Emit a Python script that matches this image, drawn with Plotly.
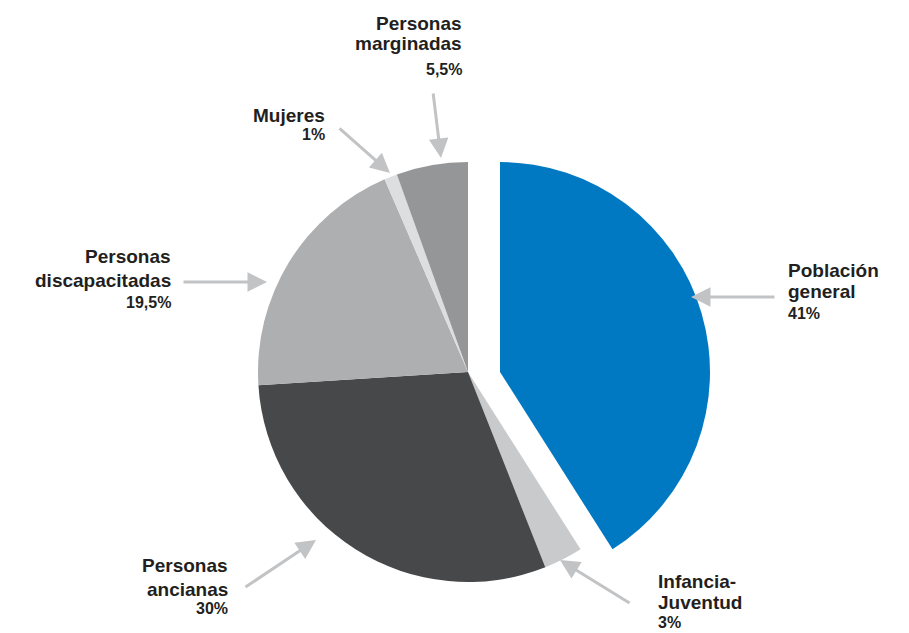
import plotly.graph_objects as go

W, H = 909, 633

# ---- data ----
categories = ["Población general", "Infancia-Juventud", "Personas ancianas",
              "Personas discapacitadas", "Mujeres", "Personas marginadas"]
values = [41, 3, 30, 19.5, 1, 5.5]
pct_labels = ["41%", "3%", "30%", "19,5%", "1%", "5,5%"]
name_lines = [["Población", "general"], ["Infancia-", "Juventud"], ["Personas", "ancianas"],
              ["Personas", "discapacitadas"], ["Mujeres"], ["Personas", "marginadas"]]

colors = ["#0079C2", "#C9CACC", "#47484A", "#AEAFB1", "#DDDEDF", "#959698"]
exploded = [True, False, False, False, False, False]

FONT = "Liberation Sans, Arial, sans-serif"
ARROW = "#C2C3C5"
CLEAR = "rgba(0,0,0,0)"

# pie geometry (pixels)
cx, cy, r = 468, 372, 210
explode_px = 32


def dom(cxp):
    return dict(x=[(cxp - r) / W, (cxp + r) / W],
                y=[(H - cy - r) / H, (H - cy + r) / H])


base_colors = [CLEAR if e else c for c, e in zip(colors, exploded)]
out_colors = [c if e else CLEAR for c, e in zip(colors, exploded)]

fig = go.Figure()
fig.add_trace(go.Pie(
    labels=categories, values=values, sort=False, direction="clockwise", rotation=0,
    textinfo="none", hoverinfo="label+percent",
    marker=dict(colors=base_colors, line=dict(width=0)),
    domain=dom(cx), showlegend=False,
))
fig.add_trace(go.Pie(
    labels=categories, values=values, sort=False, direction="clockwise", rotation=0,
    textinfo="none", hoverinfo="skip",
    marker=dict(colors=out_colors, line=dict(width=0)),
    domain=dom(cx + explode_px), showlegend=False,
))


def px(x):
    return x / W


def py(y):
    return 1 - y / H


# label layout: (anchor x, side, [name line mids], pct mid)
label_pos = [
    (787, "left", [270, 291.5], 313),
    (657, "left", [581, 602.5], 622),
    (229, "right", [565.5, 589.5], 608.5),
    (172, "right", [256.5, 280.5], 302),
    (326, "right", [115], 134),
    (463, "right", [23.5, 43.5], 70),
]
# arrows: (head x, head y, tail x, tail y)
arrows = [
    (691, 297, 776, 297),
    (560, 560, 631, 604),
    (316, 540, 244, 588),
    (267, 282, 182, 282),
    (390, 173, 338, 127),
    (441, 158, 433, 92),
]

ann = []
for i in range(len(categories)):
    x, side, mids, pmid = label_pos[i]
    for line, m in zip(name_lines[i], mids):
        ann.append(dict(x=px(x), y=py(m), xref="paper", yref="paper", text=line,
                        showarrow=False, xanchor=side, yanchor="middle",
                        font=dict(family=FONT, size=19, color="#231F20", weight="bold"),
                        borderpad=0))
    ann.append(dict(x=px(x), y=py(pmid), xref="paper", yref="paper", text=pct_labels[i],
                    showarrow=False, xanchor=side, yanchor="middle",
                    font=dict(family=FONT, size=16, color="#231F20", weight="bold"),
                    borderpad=0))
    hx, hy, tx, ty = arrows[i]
    ann.append(dict(x=px(hx), y=py(hy), xref="paper", yref="paper", text="",
                    showarrow=True, ax=tx - hx, ay=ty - hy, axref="pixel", ayref="pixel",
                    arrowhead=2, arrowsize=1.3, arrowwidth=3, arrowcolor=ARROW))

fig.update_layout(
    width=W, height=H, margin=dict(l=0, r=0, t=0, b=0),
    paper_bgcolor="white", plot_bgcolor="white",
    annotations=ann,
)

fig.write_html("out.html", config={"displayModeBar": False},
               post_script="document.body.style.margin='0';")
